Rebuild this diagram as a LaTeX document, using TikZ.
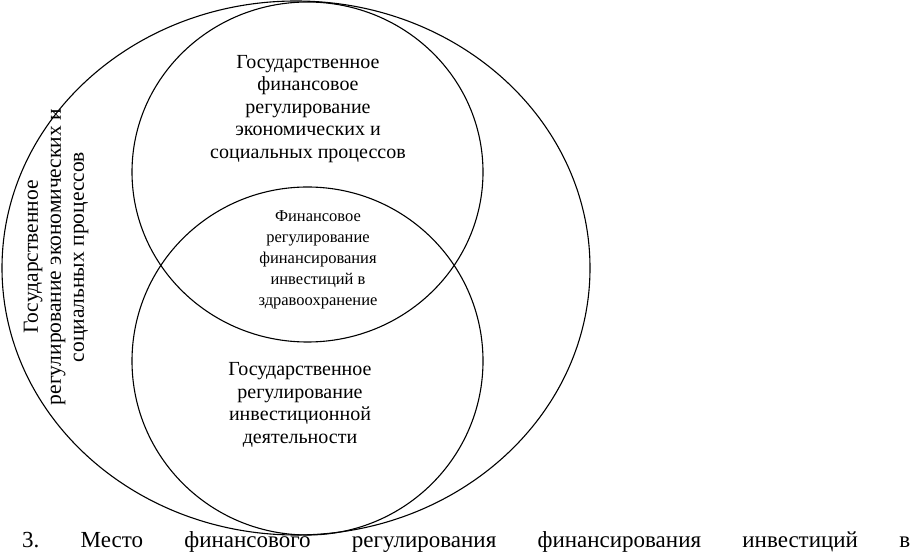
\documentclass[tikz,border=0pt]{standalone}
\usepackage{fontspec}
\setmainfont{Liberation Serif}
\usetikzlibrary{shapes.geometric}
\definecolor{ink}{HTML}{000000}
\newcommand{\bigfont}{\fontsize{20}{22.5}\selectfont}
\newcommand{\smallfont}{\fontsize{16.5}{21}\selectfont}
\tikzset{
  ring/.style={draw=ink, ellipse, line width=1.1pt, inner sep=0pt},
  label/.style={align=center, text=ink, inner sep=0pt, font=\bigfont}
}

\begin{document}
\begin{tikzpicture}[x=1pt,y=1pt]
\useasboundingbox (0,0) rectangle (912,554);

% circles
\node[ring, minimum width=588, minimum height=534] (outer) at (296,286) {};
\node[ring, minimum width=351, minimum height=340] (upper) at (307.5,382) {};
\node[ring, minimum width=351, minimum height=348] (lower) at (307.5,193) {};

% texts
\node[label] (uppertxt) at (308,445)
  {Государственное\\финансовое\\регулирование\\экономических и\\социальных процессов};
\node[label, font=\smallfont] (midtxt) at (318,294)
  {Финансовое\\регулирование\\финансирования\\инвестиций в\\здравоохранение};
\node[label] (lowertxt) at (300,149)
  {Государственное\\регулирование\\инвестиционной\\деятельности};
\node[label, rotate=90, font=\fontsize{21.5}{23}\selectfont] (outertxt) at (56,297)
  {Государственное\\регулирование экономических и\\социальных процессов};

% caption
\node[anchor=base west, inner sep=0pt, text=ink, font=\fontsize{23}{26}\selectfont] (caption) at (22,7)
  {\hbox to 888pt{3.\hfill Место\hfill финансового\hfill регулирования\hfill финансирования\hfill инвестиций\hfill в}};

\end{tikzpicture}
\end{document}
